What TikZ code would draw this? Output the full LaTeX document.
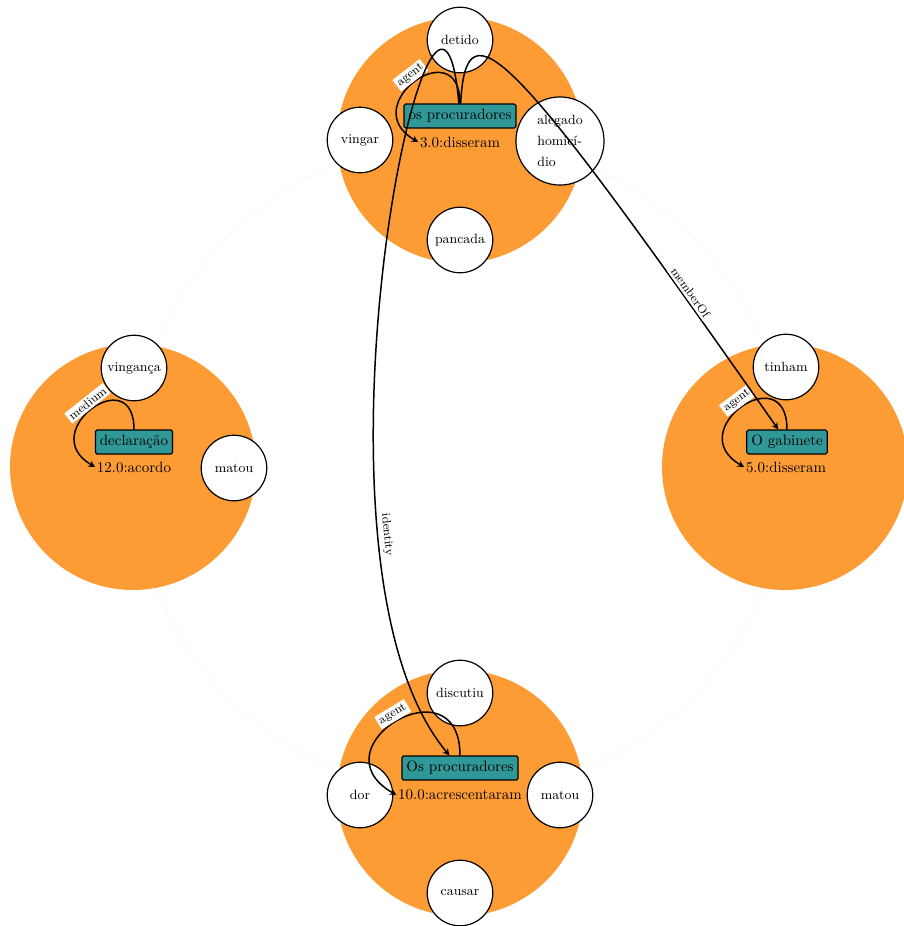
\documentclass[tikz,border=0pt]{standalone}
\usepackage{amsmath}

\definecolor{clusterorange}{RGB}{253,155,52}
\definecolor{entityteal}{RGB}{48,152,150}

\begin{document}
\begin{tikzpicture}[x=0.0235cm, y=0.0235cm,
	cluster/.style={circle, fill=clusterorange, minimum size=5.78cm, inner sep=0pt},
	leaf/.style={circle, draw, fill=white, line width=0.8pt, minimum size=1.54cm, inner sep=1pt, font=\small},
	entity/.style={draw, fill=entityteal, rounded corners=1pt, line width=0.8pt, inner sep=3pt, minimum height=0.56cm},
	event/.style={inner sep=1pt},
	rel/.style={line width=1pt, -stealth},
	rellabel/.style={font=\footnotesize, fill=white, sloped, above, inner sep=1.5pt}]

	\useasboundingbox (0,0) rectangle (903,-926);
	\draw[black!4] (460,-467) circle (327);

	\node[cluster] (top) at (460,-140) {};
	\node[cluster] (left) at (133,-467) {};
	\node[cluster] (right) at (785,-467) {};
	\node[cluster] (bottom) at (460,-793) {};

	\node[leaf] (detido) at (460,-40) {detido};
	\node[leaf] (vingar) at (360,-140) {vingar};
	\node[leaf, minimum size=2.07cm, align=left] (alegado) at (560,-141) {alegado\\[3pt]homicí-\\[3pt]dio};
	\node[leaf] (pancada) at (460,-240) {pancada};

	\node[leaf] (vinganca) at (134,-368) {vingança};
	\node[leaf] (matouL) at (234,-468) {matou};

	\node[leaf] (tinham) at (786,-367) {tinham};

	\node[leaf] (discutiu) at (460,-693) {discutiu};
	\node[leaf] (dor) at (360,-795) {dor};
	\node[leaf] (matouB) at (560,-795) {matou};
	\node[leaf] (causar) at (460,-893) {causar};

	\node[entity] (procA) at (460,-116) {os procuradores};
	\node[event] (evA) at (460,-142) {3.0:disseram};
	\node[entity] (decl) at (134,-442) {declaração};
	\node[event] (evL) at (134,-467) {12.0:acordo};
	\node[entity] (gab) at (787,-442) {O gabinete};
	\node[event] (evR) at (786,-467) {5.0:disseram};
	\node[entity] (procB) at (460,-768) {Os procuradores};
	\node[event] (evB) at (460,-795) {10.0:acrescentaram};

	\draw[rel] (procA.north) to[out=90, in=150, looseness=3.3] node[rellabel] {agent} (evA.west);
	\draw[rel] (decl.north) to[out=90, in=150, looseness=3.3] node[rellabel] {medium} (evL.west);
	\draw[rel] (gab.north) to[out=90, in=150, looseness=3.3] node[rellabel] {agent} (evR.west);
	\draw[rel] (procB.north) to[out=90, in=150, looseness=3.3] node[rellabel] {agent} (evB.west);

	\draw[rel] (procA) to[out=95, in=130] node[rellabel, pos=0.75] {identity} (procB);
	\draw[rel] (procA) to[out=87, in=125, out distance=2.44cm, in distance=11cm] node[rellabel, pos=0.87] {memberOf} (gab);
\end{tikzpicture}
\end{document}
